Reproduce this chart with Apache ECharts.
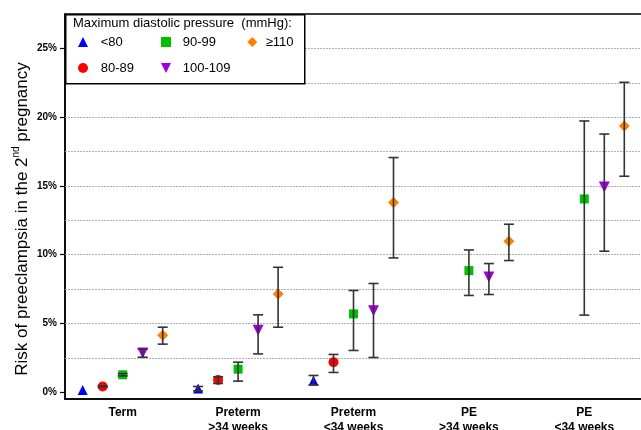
<!DOCTYPE html>
<html>
<head>
<meta charset="utf-8">
<script src="https://cdn.jsdelivr.net/npm/echarts@6/dist/echarts.min.js"></script>
<style>html,body{margin:0;padding:0;background:#fff;}#c{width:641px;height:430px;}</style>
</head>
<body>
<div id="c"></div>
<script>
// ---- data ----
const categories = ['Term', 'Preterm\n>34 weeks', 'Preterm\n<34 weeks', 'PE\n>34 weeks', 'PE\n<34 weeks'];
const groupNames = ['<80', '80-89', '90-99', '100-109', '≥110'];
// risk (%) per category
const riskLt80   = [0.15, 0.27, 0.82, null, null];
const riskLt80Lo = [null, 0.09, 0.53, null, null];
const riskLt80Hi = [null, 0.41, 1.21, null, null];
const risk8089   = [0.41, 0.89, 2.18, null, null];
const risk8089Lo = [0.37, 0.63, 1.43, null, null];
const risk8089Hi = [0.45, 1.11, 2.74, null, null];
const risk9099   = [1.26, 1.67, 5.69, 8.84, 14.05];
const risk9099Lo = [1.18, 0.80, 3.03, 7.03, 5.60];
const risk9099Hi = [1.35, 2.18, 7.39, 10.34, 19.72];
const risk100    = [2.85, 4.50, 5.91, 8.38, 14.92];
const risk100Lo  = [2.54, 2.78, 2.52, 7.10, 10.25];
const risk100Hi  = [3.13, 5.62, 7.90, 9.35, 18.77];
const risk110    = [4.14, 7.14, 13.79, 10.97, 19.35];
const risk110Lo  = [3.49, 4.72, 9.76, 9.57, 15.70];
const risk110Hi  = [4.72, 9.08, 17.06, 12.21, 22.53];
const yTickLabels = [0, 5, 10, 15, 20, 25];
const yGridValues = [2.5, 5, 7.5, 10, 12.5, 15, 17.5, 20, 22.5, 25];

// ---- styling ----
const FONT = 'Liberation Sans, Arial, sans-serif';
const groups = [
  { name: groupNames[0], v: riskLt80, lo: riskLt80Lo, hi: riskLt80Hi, color: '#0000ff', symbol: 'triangle', rot: 0, size: 10, off: -40, icon: 'triangle' },
  { name: groupNames[1], v: risk8089, lo: risk8089Lo, hi: risk8089Hi, color: '#ff0000', symbol: 'circle', rot: 0, size: 10, off: -20, icon: 'circle' },
  { name: groupNames[2], v: risk9099, lo: risk9099Lo, hi: risk9099Hi, color: '#00c000', symbol: 'rect', rot: 0, size: 9, off: 0, icon: 'rect' },
  { name: groupNames[3], v: risk100, lo: risk100Lo, hi: risk100Hi, color: '#a000e0', symbol: 'triangle', rot: 180, size: 11, off: 20, icon: 'path://M0,0L10,0L5,10Z' },
  { name: groupNames[4], v: risk110, lo: risk110Lo, hi: risk110Hi, color: '#ff8000', symbol: 'diamond', rot: 0, size: 11, off: 40, icon: 'diamond' }
];

const series = [];
groups.forEach((g, gi) => {
  const pts = [];
  g.v.forEach((v, i) => { if (v != null) pts.push([i, v]); });
  const s = {
    type: 'scatter', name: g.name, data: pts, symbol: g.symbol, symbolRotate: g.rot,
    symbolSize: g.size, symbolOffset: [g.off, 0], symbolKeepAspect: true,
    itemStyle: { color: g.color, opacity: 1 }, z: 2, silent: true
  };
  if (gi === 0) {
    s.markLine = {
      silent: true, symbol: 'none', animation: false, z: 1,
      label: { show: false },
      lineStyle: { color: '#b0b0b0', type: [2, 1], width: 1 },
      data: yGridValues.map(v => ({ yAxis: v }))
    };
  }
  series.push(s);
  const err = [];
  g.lo.forEach((lo, i) => { if (lo != null && g.hi[i] != null) err.push([i, lo, g.hi[i]]); });
  series.push({
    type: 'custom', name: 'err' + gi, data: err, z: 3, silent: true,
    renderItem: function (params, api) {
      const cx = api.coord([api.value(0), 0])[0] + g.off;
      const yLo = api.coord([api.value(0), api.value(1)])[1];
      const yHi = api.coord([api.value(0), api.value(2)])[1];
      const st = { stroke: '#333', lineWidth: 1.6 };
      const hw = 5;
      return {
        type: 'group',
        children: [
          { type: 'line', shape: { x1: cx, y1: yLo, x2: cx, y2: yHi }, style: st },
          { type: 'line', shape: { x1: cx - hw, y1: yLo, x2: cx + hw, y2: yLo }, style: st },
          { type: 'line', shape: { x1: cx - hw, y1: yHi, x2: cx + hw, y2: yHi }, style: st }
        ]
      };
    }
  });
});

// legend positions: [symbol center x, center y, text left padding]
const legendPos = [[83, 42, 7.7], [83, 68, 7.7], [166, 42, 6.7], [166, 68, 6.7], [252.3, 42, 3.4]];
const legends = groups.map((g, gi) => ({
  data: [{ name: g.name, icon: g.icon }], left: legendPos[gi][0] - 5, top: legendPos[gi][1] - 7, padding: 0,
  itemWidth: 10, itemHeight: 10, selectedMode: false, z: 20,
  textStyle: { fontFamily: FONT, fontSize: 13, color: '#000', lineHeight: 14, padding: [0, 0, 0, legendPos[gi][2]] }
}));

const chart = echarts.init(document.getElementById('c'), null, { renderer: 'canvas' });
chart.setOption({
  animation: false,
  backgroundColor: '#fff',
  grid: { left: 65, top: 14, width: 577, bottom: 31, show: true, borderColor: '#000', borderWidth: 1.5,
          backgroundColor: 'transparent', containLabel: false, outerBoundsMode: 'none' },
  legend: legends,
  xAxis: {
    type: 'category', data: categories, boundaryGap: true,
    axisLine: { onZero: false, lineStyle: { color: '#000', width: 1.5 } },
    axisTick: { alignWithLabel: true, length: 4, lineStyle: { color: '#000', width: 1.2 } },
    axisLabel: { fontFamily: FONT, fontSize: 12, fontWeight: 'bold', color: '#000', lineHeight: 15, margin: 6, interval: 0 },
    splitLine: { show: false }
  },
  yAxis: {
    type: 'value', min: -0.5, max: 27.5,
    axisLine: { show: true, lineStyle: { color: '#000', width: 1.5 } },
    axisTick: { show: true, length: 5, customValues: yTickLabels, lineStyle: { color: '#000', width: 1.2 } },
    axisLabel: { customValues: yTickLabels, formatter: v => v + '%', fontFamily: FONT, fontSize: 10, fontWeight: 'bold', color: '#000', margin: 8 },
    splitLine: { show: false }
  },
  graphic: [
    { type: 'rect', left: 65, top: 14, z: 10, shape: { width: 239, height: 69 },
      style: { fill: '#fff', stroke: '#000', lineWidth: 1.5 } },
    { type: 'text', left: 73, top: 17, z: 21,
      style: { text: 'Maximum diastolic pressure  (mmHg):', font: '13px ' + FONT, fill: '#000' } },
    { type: 'text', x: 21, y: 219, rotation: Math.PI / 2, z: 21,
      style: {
        text: '{a|Risk of preeclampsia in the 2}{s|nd}{a| pregnancy}',
        align: 'center', verticalAlign: 'middle',
        rich: {
          a: { fontFamily: FONT, fontSize: 17, color: '#000', lineHeight: 20, verticalAlign: 'bottom' },
          s: { fontFamily: FONT, fontSize: 10, color: '#000', lineHeight: 20, verticalAlign: 'top' }
        }
      } }
  ],
  series: series
});
</script>
</body>
</html>
